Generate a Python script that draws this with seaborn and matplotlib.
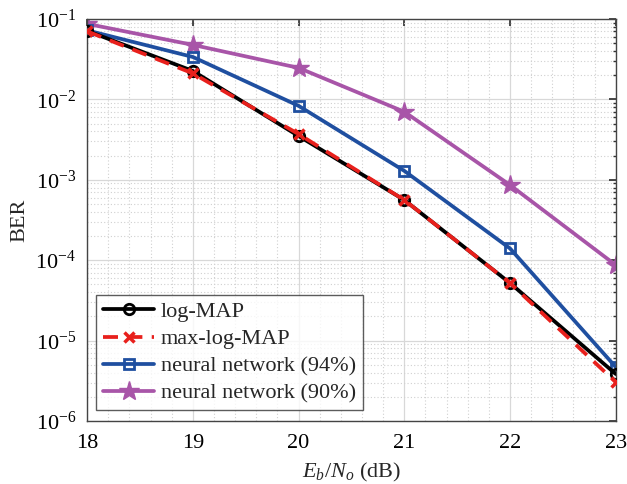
import numpy as np
import pandas as pd
import matplotlib
matplotlib.use("Agg")
import matplotlib.pyplot as plt
import seaborn as sns
from matplotlib.ticker import LogLocator, NullFormatter, FixedLocator

snr = [18, 19, 20, 21, 22, 23]
log_map = [0.071, 0.0225, 0.0035, 5.6e-4, 5.2e-5, 3.85e-6]
max_log_map = [0.070, 0.021, 0.0037, 5.6e-4, 5.2e-5, 3.05e-6]
nn94 = [0.072, 0.0336, 0.0083, 1.29e-3, 1.4e-4, 4.7e-6]
nn90 = [0.0867, 0.0475, 0.0246, 0.0070, 8.6e-4, 8.7e-5]
labels = ["log-MAP", "max-log-MAP", "neural network (94%)", "neural network (90%)"]

sns.set_theme(style="white")
plt.rcParams["font.family"] = ["Liberation Serif", "DejaVu Serif"]
plt.rcParams["mathtext.fontset"] = "custom"
plt.rcParams["mathtext.rm"] = "Liberation Serif"
plt.rcParams["mathtext.it"] = "Liberation Serif:italic"
plt.rcParams["mathtext.bf"] = "Liberation Serif:bold"

fig = plt.figure(figsize=(6.27, 4.84), dpi=100)
ax = fig.add_axes([0.139, 0.130, 0.843, 0.831])

series = [
    (labels[0], log_map, dict(color="black", linestyle="-", marker="o", markersize=7.5,
                              markerfacecolor="none", markeredgecolor="black",
                              markeredgewidth=2.0, linewidth=2.7, zorder=3)),
    (labels[1], max_log_map, dict(color="#e8201c", linestyle=(0, (4, 2.5)), marker="x", markersize=6.5,
                                  markeredgecolor="#e8201c", markeredgewidth=2.5, linewidth=2.7, zorder=4)),
    (labels[2], nn94, dict(color="#1f4fa0", linestyle="-", marker="s", markersize=7,
                           markerfacecolor="none", markeredgecolor="#1f4fa0",
                           markeredgewidth=2.0, linewidth=2.7, zorder=2)),
    (labels[3], nn90, dict(color="#a855a8", linestyle="-", marker="*", markersize=15,
                           markerfacecolor="#a855a8", markeredgecolor="#a855a8",
                           markeredgewidth=1.0, linewidth=2.7, zorder=1)),
]
for name, vals, kw in series:
    df = pd.DataFrame({"snr": snr, "ber": vals})
    sns.lineplot(data=df, x="snr", y="ber", ax=ax, label=name, color=kw["color"])
    ln = ax.lines[-1]
    ln.set(**kw)

ax.set_yscale("log")
ax.set_xlim(18, 23)
ax.set_ylim(1e-6, 1e-1)
ax.set_xticks(snr)
ax.set_xticklabels([str(s) for s in snr])
ax.yaxis.set_major_locator(LogLocator(base=10, numticks=10))
ax.yaxis.set_minor_locator(LogLocator(base=10, subs=np.arange(2, 10), numticks=20))
ax.yaxis.set_minor_formatter(NullFormatter())
ax.xaxis.set_minor_locator(FixedLocator(np.arange(18, 23.01, 0.2)))

ax.grid(True, which="major", color="#d8d8d8", linewidth=0.9, linestyle="-")
ax.grid(True, which="minor", color="#d0d0d0", linewidth=0.8, linestyle=(0, (1, 2)))
ax.set_axisbelow(True)

ax.tick_params(which="both", direction="in", top=True, right=True, labelsize=16, colors="#333333",
               labelcolor="black")
ax.tick_params(which="major", length=5)
ax.tick_params(which="minor", length=2.5)
ax.tick_params(axis="x", which="minor", length=0)
ax.tick_params(axis="x", which="major", pad=9)
ax.tick_params(axis="y", which="major", pad=8)
for s in ax.spines.values():
    s.set_color("#444444")
    s.set_linewidth(1.0)

ax.set_xlabel(r"$E_b/N_o$ (dB)", fontsize=16, labelpad=6)
ax.set_ylabel("BER", fontsize=16)

handles, lbls = ax.get_legend_handles_labels()
leg = ax.legend(handles, lbls, loc="lower left", bbox_to_anchor=(0.005, 0.01), fontsize=16, frameon=True,
                fancybox=False, edgecolor="#333333", handlelength=2.3, borderpad=0.3,
                labelspacing=0.3, handletextpad=0.3, borderaxespad=0.3)
leg.get_frame().set_linewidth(1.0)

fig.savefig("out.png", dpi=100)
